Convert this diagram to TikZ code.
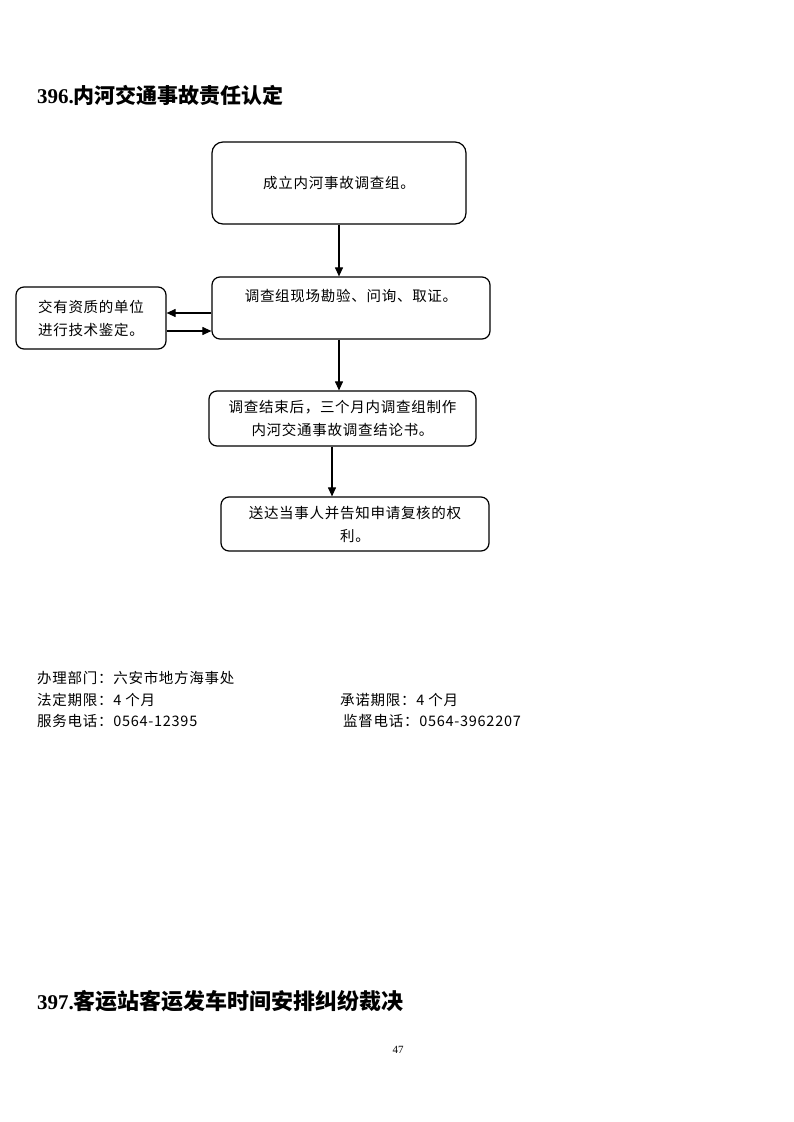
\documentclass[tikz,border=0pt]{standalone}
\usepackage{fontspec}
\setmainfont{Liberation Serif}
\newfontfamily\cjk[LetterSpace=5]{Noto Sans CJK SC}
\newfontfamily\cjkb{Noto Sans CJK SC}
\usetikzlibrary{arrows.meta}
\tikzset{
  box/.style={draw, line width=1.2pt, rounded corners=8pt, inner sep=0pt, font=\cjk\fontsize{14.5}{23}\selectfont},
  arr/.style={line width=1.1pt, -{Triangle[length=9pt,width=8pt]}},
  foot/.style={anchor=base west, inner sep=0pt, font=\cjk\fontsize{14.5}{20}\selectfont}
}
\begin{document}
\begin{tikzpicture}[x=1pt,y=-1pt]
\useasboundingbox (0,0) rectangle (793,1122);
\node[anchor=base west, inner sep=0pt] (t1) at (37,103) {\fontsize{21}{24}\selectfont\bfseries 396.{\cjkb\bfseries 内河交通事故责任认定}};
\node[box, minimum width=254pt, minimum height=82pt, rounded corners=11pt] (b1) at (339,183) {成立内河事故调查组。};
\node[box, minimum width=278pt, text height=24pt, text depth=38pt] (b2) at (351,308) {调查组现场勘验、问询、取证。};
\node[box, minimum width=150pt, minimum height=62pt, align=left] (lb) at (91,318) {交有资质的单位\\进行技术鉴定。};
\node[box, minimum width=267pt, minimum height=55pt, align=center] (b3) at (342.5,418.5) {调查结束后，三个月内调查组制作\\内河交通事故调查结论书。};
\node[box, minimum width=268pt, minimum height=54pt, align=center] (b4) at (355,524) {送达当事人并告知申请复核的权\\利。};
\coordinate (ya) at (0,313);
\coordinate (yb) at (0,331);
\coordinate (xa) at (339,0);
\coordinate (xb) at (332,0);
\draw[arr] (b1.south -| xa) -- (b2.north -| xa);
\draw[arr] (b2.west |- ya) -- (lb.east |- ya);
\draw[arr] (lb.east |- yb) -- (b2.west |- yb);
\draw[arr] (b2.south -| xa) -- (b3.north -| xa);
\draw[arr] (b3.south -| xb) -- (b4.north -| xb);
\node[foot] (f1) at (37,683) {办理部门：六安市地方海事处};
\node[foot] (f2) at (37,705) {法定期限：4 个月};
\node[foot] (f3) at (340,705) {承诺期限：4 个月};
\node[foot] (f4) at (37,726) {服务电话：0564-12395};
\node[foot] (f5) at (343,726) {监督电话：0564-3962207};
\node[anchor=base west, inner sep=0pt] (t2) at (37,1009) {\fontsize{21}{24}\selectfont\bfseries 397.{\cjkb\bfseries\fontsize{22}{24}\selectfont 客运站客运发车时间安排纠纷裁决}};
\node[anchor=base, inner sep=0pt] (pn) at (398,1053) {\fontsize{11}{12}\selectfont 47};
\end{tikzpicture}
\end{document}
